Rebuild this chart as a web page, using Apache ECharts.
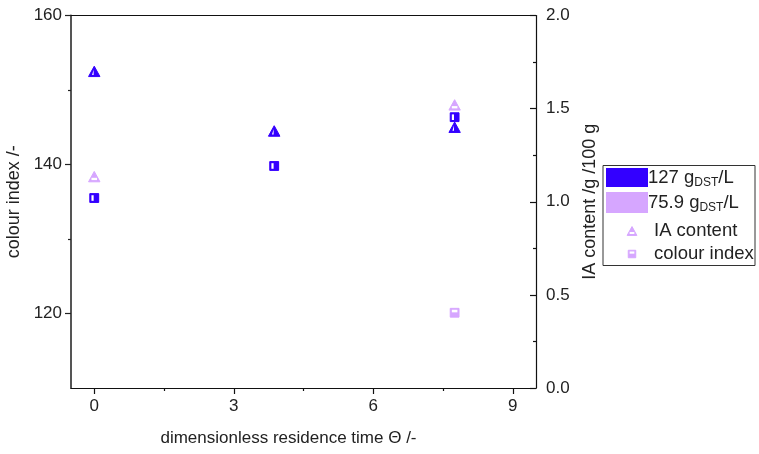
<!DOCTYPE html>
<html>
<head>
<meta charset="utf-8">
<script src="https://cdn.jsdelivr.net/npm/echarts@6/dist/echarts.min.js"></script>
<style>html,body{margin:0;padding:0;background:#fff}#c{width:759px;height:454px}</style>
</head>
<body>
<div id="c"></div>
<script>
// ---- data ----
const thetaValues = [0, 3.87, 7.75];
const iaContentHigh = [1.70, 1.38, 1.40];     // 127 g_DST/L
const iaContentLow = [1.135, 1.38, 1.52];     // 75.9 g_DST/L
const colourIndexHigh = [135.5, 139.8, 146.35];
const colourIndexLow = [135.5, 139.8, 120.1];
const xMajorTicks = [0, 3, 6, 9];
const xMinorTicks = [1.5, 4.5, 7.5];
const yLeftMajorTicks = [120, 140, 160];
const yLeftMinorTicks = [130, 150];
const seriesNames = ['127 g_DST/L', '75.9 g_DST/L'];

const DARK = '#3300ff';
const LIGHT = '#d6a6ff';
const FONT = 'Liberation Sans, Arial, sans-serif';

function triangleShape(cx, cy, color, mode, s, z) {
  s = s || 1;
  const hw = 5.7 * s, hh = 5.2 * s;
  const extra = z != null ? { z: z } : {};
  const children = [];
  if (mode === 'right') {
    children.push({ type: 'polygon', ...extra, shape: { points: [[cx, cy - hh], [cx + hw, cy + hh], [cx - hw, cy + hh]] }, style: { fill: color, stroke: color, lineWidth: 1 } });
    children.push({ type: 'polygon', ...extra, shape: { points: [[cx - 0.6 * s, cy - hh + 3.5 * s], [cx - 0.6 * s, cy + hh - 1.6 * s], [cx - 2.2 * s, cy + hh - 1.6 * s]] }, style: { fill: '#fff' } });
  } else {
    children.push({ type: 'polygon', ...extra, shape: { points: [[cx, cy - hh], [cx + hw, cy + hh], [cx - hw, cy + hh]] }, style: { fill: color, stroke: color, lineWidth: 1 } });
    children.push({ type: 'rect', ...extra, shape: { x: cx - 2.8 * s, y: cy + 1.2 * s, width: 5.6 * s, height: 2.3 * s }, style: { fill: '#fff' } });
  }
  return { type: 'group', children };
}
function squareShape(cx, cy, color, mode, s, z) {
  s = s || 1;
  const h = 4.4 * s;
  const extra = z != null ? { z: z } : {};
  const children = [{
    type: 'rect', ...extra, shape: { x: cx - h, y: cy - h, width: 2 * h, height: 2 * h },
    style: { fill: color, stroke: color, lineWidth: 1 }
  }];
  if (mode === 'right') {
    children.push({ type: 'rect', ...extra, shape: { x: cx - h + 1.6 * s, y: cy - h + 1.6 * s, width: 2.2 * s, height: 2 * h - 3.2 * s }, style: { fill: '#fff' } });
  } else {
    children.push({ type: 'rect', ...extra, shape: { x: cx - h + 1.6 * s, y: cy - h + 1.4 * s, width: 2 * h - 3.2 * s, height: 2.6 * s }, style: { fill: '#fff' } });
  }
  return { type: 'group', children };
}
function renderer(kind, color, mode) {
  return function (params, api) {
    const p = api.coord([api.value(0), api.value(1)]);
    return kind === 'tri' ? triangleShape(p[0], p[1], color, mode) : squareShape(p[0], p[1], color, mode);
  };
}
function pairs(xs, ys) { return xs.map((x, i) => [x, ys[i]]); }

const axisLabelStyle = { fontSize: 17, color: '#222', fontFamily: FONT };
const nameStyle = { fontSize: 17, color: '#222', fontFamily: FONT };
const yNameStyle = { fontSize: 18, color: '#222', fontFamily: FONT };

const chart = echarts.init(document.getElementById('c'), null, { renderer: 'canvas' });
chart.setOption({
  animation: false,
  backgroundColor: '#fff',
  grid: { left: 71, top: 15.5, width: 465, height: 372.5, show: false, containLabel: false, outerBoundsMode: 'none' },
  xAxis: [{
    type: 'value', min: -0.5, max: 9.5, position: 'bottom',
    name: 'dimensionless residence time \u0398 /-', nameLocation: 'middle', nameGap: 42,
    nameTextStyle: { ...nameStyle, padding: [0, 30, 0, 0] },
    axisLine: { show: true, onZero: false, lineStyle: { color: '#111', width: 1.2 } },
    axisTick: { show: true, customValues: xMajorTicks, length: 6, lineStyle: { color: '#111', width: 1.2 } },
    axisLabel: { show: true, customValues: xMajorTicks, margin: 10, ...axisLabelStyle },
    splitLine: { show: false }
  }, {
    type: 'value', min: -0.5, max: 9.5, position: 'bottom', offset: 0,
    axisLine: { show: false, onZero: false },
    axisTick: { show: true, customValues: xMinorTicks, length: 3, lineStyle: { color: '#111', width: 1.2 } },
    axisLabel: { show: false }, splitLine: { show: false }
  }, {
    type: 'value', min: -0.5, max: 9.5, position: 'top', offset: 0,
    axisLine: { show: true, onZero: false, lineStyle: { color: '#111', width: 1.2 } },
    axisTick: { show: false }, axisLabel: { show: false }, splitLine: { show: false }
  }],
  yAxis: [{
    type: 'value', min: 110, max: 160, position: 'left',
    name: 'colour index /-', nameLocation: 'middle', nameGap: 42, nameTextStyle: yNameStyle,
    axisLine: { show: true, onZero: false, lineStyle: { color: '#555', width: 2 } },
    axisTick: { show: true, customValues: yLeftMajorTicks, length: 6, lineStyle: { color: '#222', width: 1.2 } },
    axisLabel: { show: true, customValues: yLeftMajorTicks, margin: 9, ...axisLabelStyle },
    splitLine: { show: false }
  }, {
    type: 'value', min: 0, max: 2, interval: 0.5, position: 'right',
    name: 'IA content /g /100 g', nameLocation: 'middle', nameGap: 41, nameTextStyle: yNameStyle,
    axisLine: { show: true, onZero: false, lineStyle: { color: '#111', width: 1.2 } },
    axisTick: { show: true, inside: true, length: 6, lineStyle: { color: '#111', width: 1.2 } },
    minorTick: { show: true, splitNumber: 2, length: 3, lineStyle: { color: '#111', width: 1.2 } },
    axisLabel: { show: true, margin: 10, formatter: v => v.toFixed(1), ...axisLabelStyle },
    splitLine: { show: false }, minorSplitLine: { show: false }
  }, {
    type: 'value', min: 110, max: 160, position: 'left', offset: 0,
    axisLine: { show: false, onZero: false },
    axisTick: { show: true, customValues: yLeftMinorTicks, length: 3, lineStyle: { color: '#222', width: 1.2 } },
    axisLabel: { show: false }, splitLine: { show: false }
  }],
  series: [
    { name: seriesNames[1] + ' colour', type: 'custom', xAxisIndex: 0, yAxisIndex: 0, renderItem: renderer('sq', LIGHT, 'bottom'), data: pairs(thetaValues, colourIndexLow), encode: { x: 0, y: 1 }, z: 2 },
    { name: seriesNames[1] + ' IA', type: 'custom', xAxisIndex: 0, yAxisIndex: 1, renderItem: renderer('tri', LIGHT, 'top'), data: pairs(thetaValues, iaContentLow), encode: { x: 0, y: 1 }, z: 2 },
    { name: seriesNames[0] + ' colour', type: 'custom', xAxisIndex: 0, yAxisIndex: 0, renderItem: renderer('sq', DARK, 'right'), data: pairs(thetaValues, colourIndexHigh), encode: { x: 0, y: 1 }, z: 3 },
    { name: seriesNames[0] + ' IA', type: 'custom', xAxisIndex: 0, yAxisIndex: 1, renderItem: renderer('tri', DARK, 'right'), data: pairs(thetaValues, iaContentHigh), encode: { x: 0, y: 1 }, z: 3 }
  ],
  graphic: [
    { type: 'rect', shape: { x: 603, y: 165.5, width: 152, height: 100 }, style: { fill: '#fff', stroke: '#333', lineWidth: 1 }, z: 10 },
    { type: 'rect', shape: { x: 606, y: 168, width: 42, height: 19 }, style: { fill: DARK }, z: 11 },
    { type: 'rect', shape: { x: 606, y: 192, width: 42, height: 21 }, style: { fill: LIGHT }, z: 11 },
    { type: 'text', x: 648, y: 167, z: 11, style: { text: '{n|127 g}{s|DST}{n|/L}', fill: '#222', rich: { n: { fontSize: 18.5, fontFamily: FONT, lineHeight: 22, verticalAlign: 'middle' }, s: { fontSize: 12, fontFamily: FONT, lineHeight: 12, verticalAlign: 'bottom' } } } },
    { type: 'text', x: 648, y: 192, z: 11, style: { text: '{n|75.9 g}{s|DST}{n|/L}', fill: '#222', rich: { n: { fontSize: 18.5, fontFamily: FONT, lineHeight: 22, verticalAlign: 'middle' }, s: { fontSize: 12, fontFamily: FONT, lineHeight: 12, verticalAlign: 'bottom' } } } },
    triangleShape(632, 231, LIGHT, 'top', 0.85, 12),
    squareShape(632, 254, LIGHT, 'bottom', 0.85, 12),
    { type: 'text', x: 654, y: 231, z: 11, style: { text: 'IA content', fill: '#222', fontSize: 18.5, fontFamily: FONT, verticalAlign: 'middle' } },
    { type: 'text', x: 654, y: 254, z: 11, style: { text: 'colour index', fill: '#222', fontSize: 18.5, fontFamily: FONT, verticalAlign: 'middle' } }
  ]
});
</script>
</body>
</html>
